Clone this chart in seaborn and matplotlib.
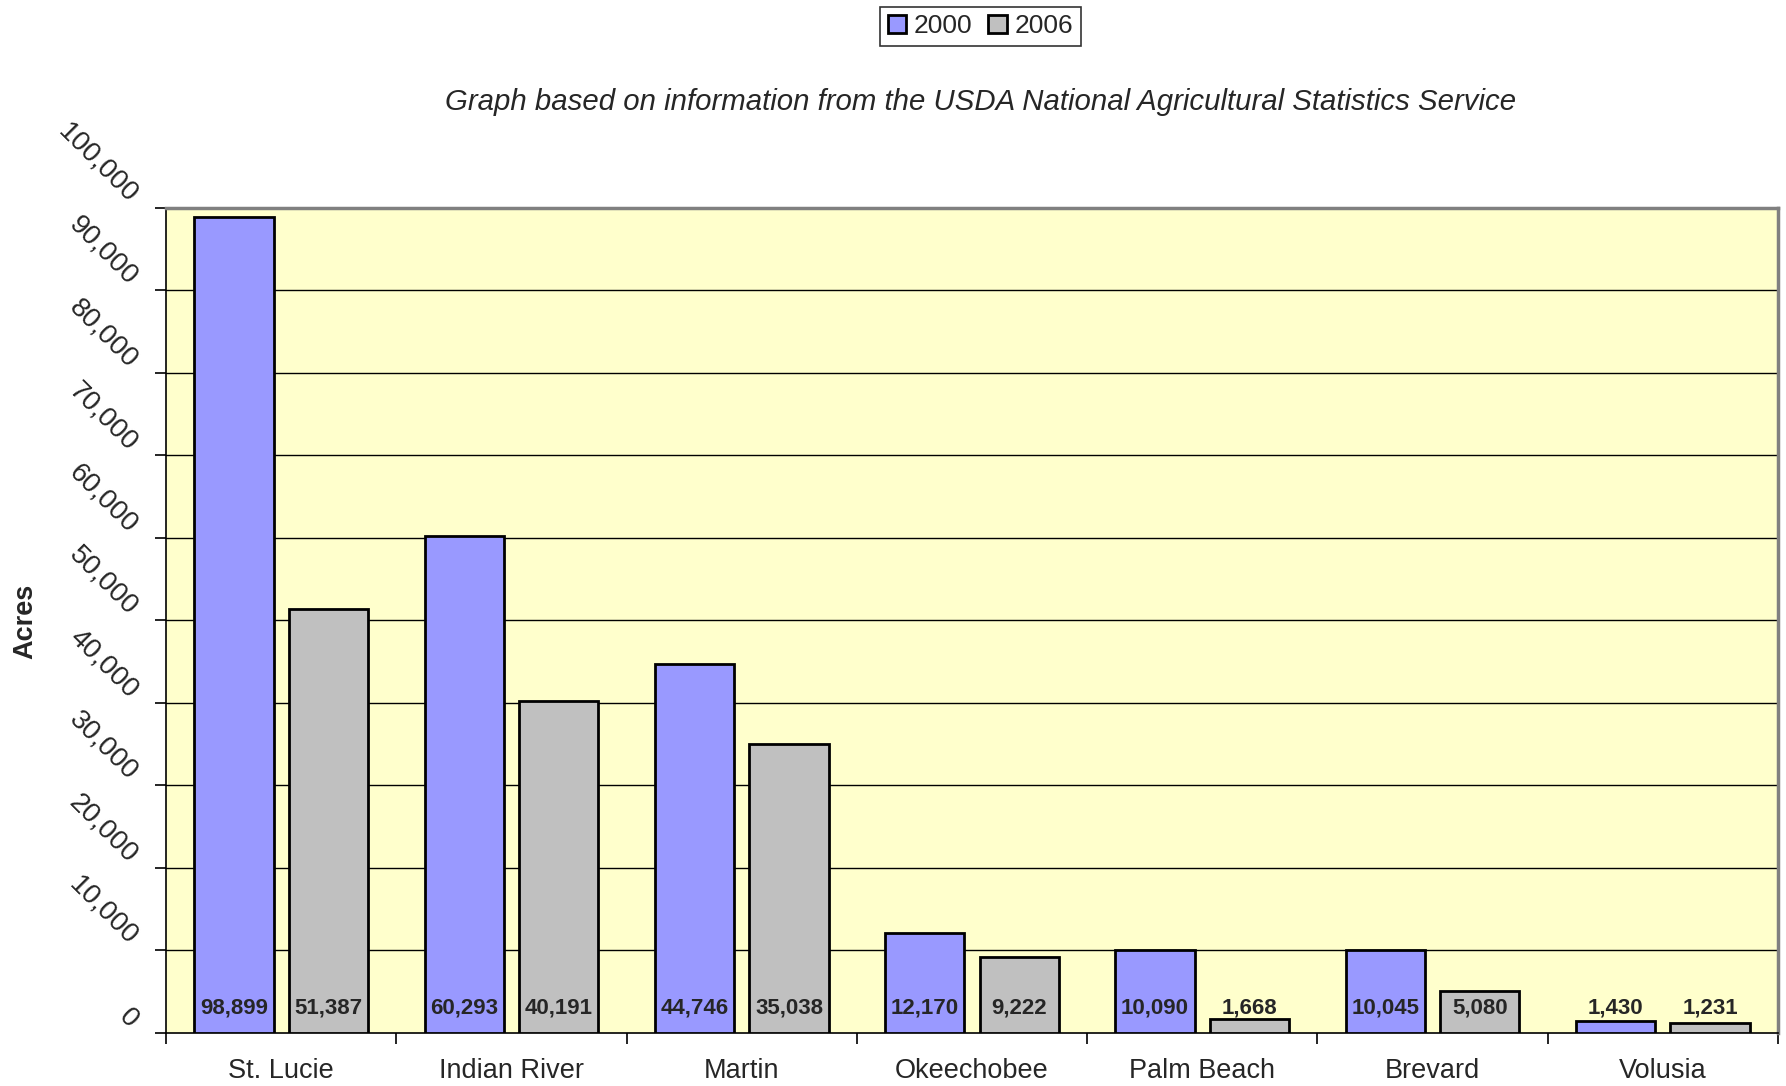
import numpy as np
import pandas as pd
import matplotlib
matplotlib.use("Agg")
import matplotlib.pyplot as plt
import seaborn as sns
from matplotlib.patches import Patch
from matplotlib.ticker import FixedLocator

# --------------------------
# DATA
# --------------------------
counties = ["St. Lucie", "Indian River", "Martin", "Okeechobee",
            "Palm Beach", "Brevard", "Volusia"]
acres_2000 = [98899, 60293, 44746, 12170, 10090, 10045, 1430]
acres_2006 = [51387, 40191, 35038, 9222, 1668, 5080, 1231]
years = ["2000", "2006"]
y_ticks = list(range(0, 100001, 10000))

df = pd.DataFrame({
    "County": counties * 2,
    "Year": [years[0]] * len(counties) + [years[1]] * len(counties),
    "Acres": acres_2000 + acres_2006,
})

# --------------------------
# STYLE
# --------------------------
sns.set_style("white")
plt.rcParams["font.family"] = ["Liberation Sans", "DejaVu Sans"]

blue = "#9999FF"
gray = "#C0C0C0"
palette = {"2000": blue, "2006": gray}

fig = plt.figure(figsize=(17.86, 10.86), dpi=100)
ax = fig.add_axes([0.093, 0.0488, 0.9025, 0.7597])
ax.set_facecolor("#FFFFCC")

sns.barplot(data=df, x="County", y="Acres", hue="Year", order=counties,
            hue_order=years, palette=palette, width=0.82, gap=0.16,
            edgecolor="black", linewidth=2, saturation=1, errorbar=None,
            legend=False, ax=ax, zorder=3)

# value labels near bar base
for i, c in enumerate(counties):
    for j, vals in enumerate([acres_2000, acres_2006]):
        xpos = i + (-0.205 if j == 0 else 0.205)
        ax.text(xpos, 3000, f"{vals[i]:,}", ha="center", va="center",
                fontsize=16, fontweight="bold", zorder=4)

ax.set_xlim(-0.5, len(counties) - 0.5)
ax.set_ylim(0, 100000)

# gridlines
for t in y_ticks[1:-1]:
    ax.axhline(t, color="black", linewidth=1, zorder=1)

# spines
for s in ["left", "bottom"]:
    ax.spines[s].set_color("black")
    ax.spines[s].set_linewidth(1.2)
for s in ["top", "right"]:
    ax.spines[s].set_color("#808080")
    ax.spines[s].set_linewidth(2.5)

# y ticks
ax.set_yticks(y_ticks)
ax.set_yticklabels([f"{t:,}" for t in y_ticks], rotation=-45,
                   rotation_mode="anchor", ha="right", va="bottom",
                   fontsize=20)
ax.tick_params(axis="y", which="major", left=True, direction="out",
               length=8, width=1.2, color="black", pad=22)

# x ticks: labels at centers, marks at boundaries
ax.set_xticks(range(len(counties)))
ax.set_xticklabels(counties, fontsize=19.5)
ax.xaxis.set_minor_locator(FixedLocator(np.arange(-0.5, len(counties), 1.0)))
ax.tick_params(axis="x", which="major", length=0, pad=18)
ax.tick_params(axis="x", which="minor", bottom=True, direction="out",
               length=8, width=1.2, color="black")

ax.set_xlabel("")
ax.set_ylabel("")
fig.text(0.014, 0.428, "Acres", rotation=90, ha="center", va="center",
         fontsize=19.5, fontweight="bold")

fig.text(0.549, 0.906,
         "Graph based on information from the USDA National Agricultural Statistics Service",
         ha="center", va="center", fontsize=21.2, style="italic")

handles = [Patch(facecolor=palette[y], edgecolor="black", linewidth=2, label=y)
           for y in years]
leg = fig.legend(handles=handles, loc="upper center", bbox_to_anchor=(0.549, 0.994),
                 ncol=2, fontsize=19, frameon=True, fancybox=False,
                 handlelength=0.7, handleheight=0.7, handletextpad=0.3,
                 columnspacing=0.6, borderpad=0.3, borderaxespad=0)
leg.get_frame().set_edgecolor("black")
leg.get_frame().set_linewidth(1.2)

fig.savefig("out.png", dpi=100)
